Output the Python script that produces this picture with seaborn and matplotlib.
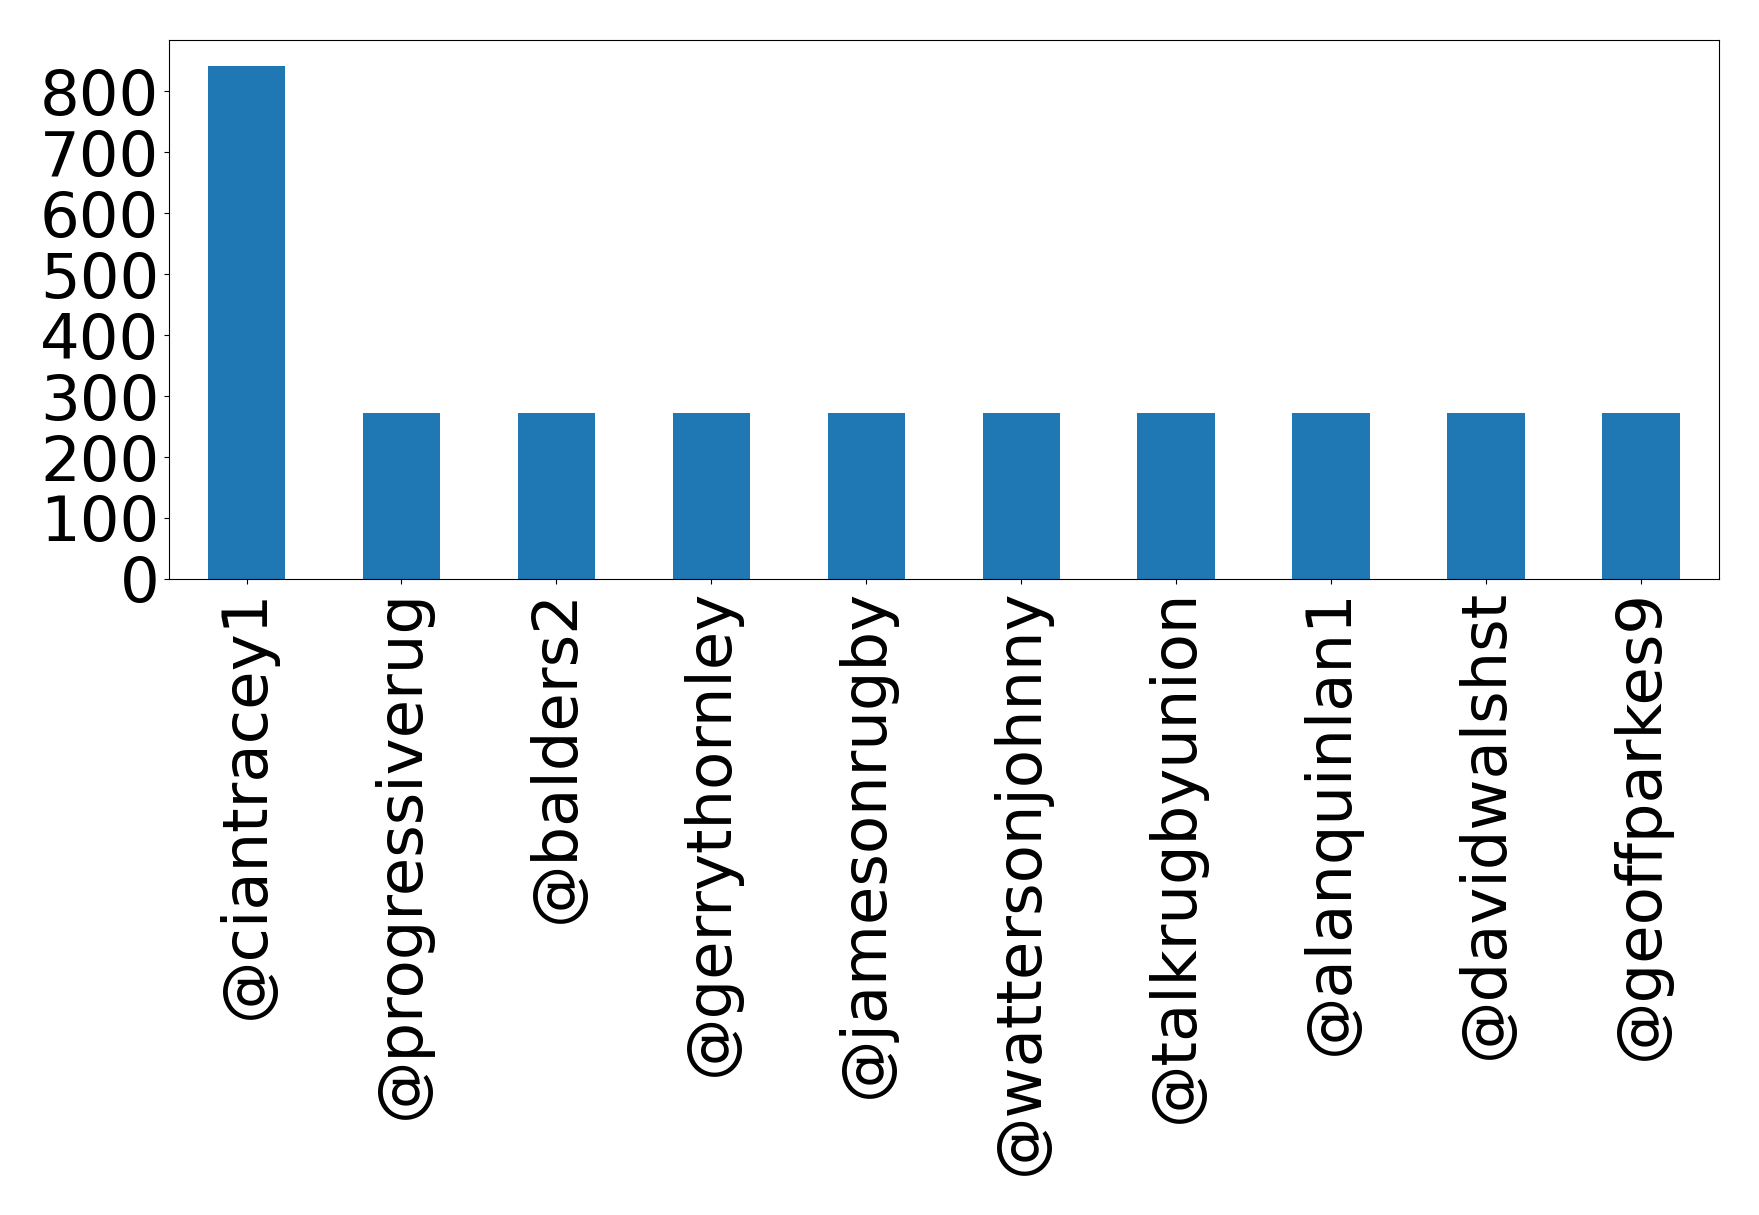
import matplotlib
matplotlib.use("Agg")
import matplotlib.pyplot as plt
import seaborn as sns
import pandas as pd

users = ["@ciantracey1", "@progressiverug", "@balders2", "@gerrythornley", "@jamesonrugby",
         "@wattersonjohnny", "@talkrugbyunion", "@alanquinlan1", "@davidwalshst", "@geoffparkes9"]
counts = [842, 273, 273, 273, 273, 273, 273, 273, 273, 273]

df = pd.DataFrame({"user": users, "count": counts})

fig, ax = plt.subplots(figsize=(17.59, 12.15), dpi=100)
fig.subplots_adjust(left=0.0961, right=0.977, top=0.967, bottom=0.5235)

sns.barplot(data=df, x="user", y="count", color="#1f77b4", saturation=1, width=0.5, ax=ax)

ax.set_xlim(-0.5, len(users) - 0.5)
ax.set_ylim(0, max(counts) * 1.05)
ax.set_xlabel("")
ax.set_ylabel("")
ax.set_yticks(range(0, 900, 100))
ax.tick_params(axis="both", labelsize=45)
ax.tick_params(axis="x", labelrotation=90)

plt.savefig("out.png", dpi=100)
